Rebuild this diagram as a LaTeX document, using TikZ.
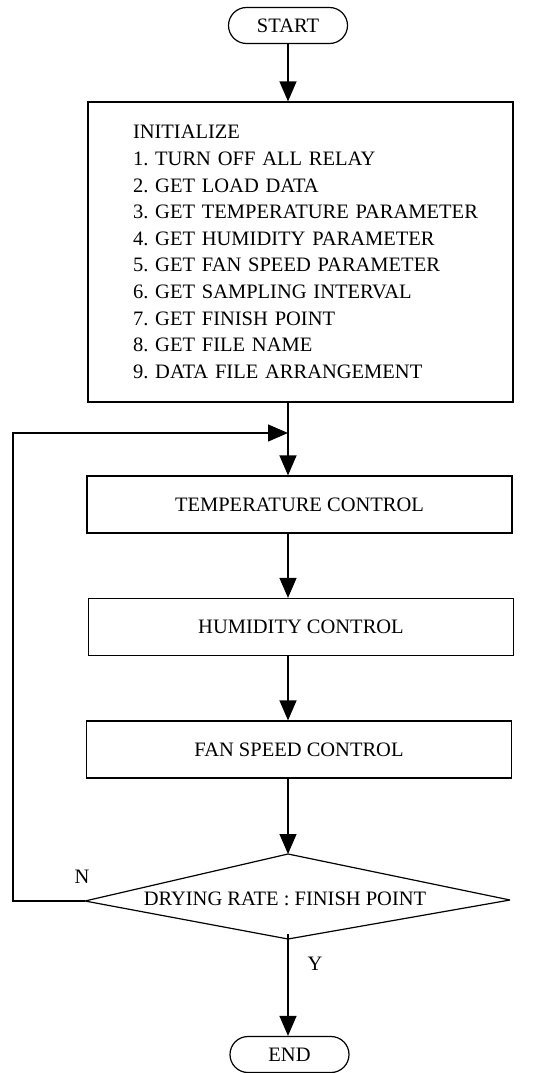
\documentclass[tikz,border=0pt]{standalone}
\usepackage{fontspec}
\setmainfont{Liberation Serif}
\frenchspacing
\usetikzlibrary{shapes.geometric,arrows.meta}
\begin{document}
\begin{tikzpicture}[x=1pt,y=-1pt,
  every node/.style={font=\fontsize{20.5pt}{26.6pt}\selectfont, text=black},
  box/.style={draw, line width=1.2pt, minimum width=425pt, minimum height=57pt, inner sep=0pt},
  term/.style={draw, line width=1.2pt, rounded corners=18pt, minimum width=119pt, minimum height=36pt, inner sep=0pt},
  decline/.style={draw, line width=1.2pt, line join=bevel},
  flow/.style={line width=1.2pt, -{Triangle[length=20pt,width=17pt]}},
  lbl/.style={inner sep=0pt}
]
\useasboundingbox (0,0) rectangle (545,1073);
\node[term] (start) at (288,25.5) {START};
\node[draw, line width=1.2pt, minimum width=425pt, minimum height=300pt, text width=335pt, inner xsep=45pt, inner ysep=0pt, align=left] (init) at (300.5,252) {\mbox{INITIALIZE}\\
\mbox{1. TURN OFF ALL RELAY}\\
\mbox{2. GET LOAD DATA}\\
\mbox{3. GET TEMPERATURE PARAMETER}\\
\mbox{4. GET HUMIDITY PARAMETER}\\
\mbox{5. GET FAN SPEED PARAMETER}\\
\mbox{6. GET SAMPLING INTERVAL}\\
\mbox{7. GET FINISH POINT}\\
\mbox{8. GET FILE NAME}\\
\mbox{9. DATA FILE ARRANGEMENT}};
\node[box] (temp) at (299.5,504.5) {TEMPERATURE CONTROL};
\node[box] (hum) at (301,627) {HUMIDITY CONTROL};
\node[box] (fan) at (299,749.5) {FAN SPEED CONTROL};
% decision
\coordinate (dtop) at (288,854);
\coordinate (dleft) at (85,901);
\coordinate (dright) at (510,900);
\coordinate (dbot) at (288,939);
\draw[decline] (dtop) -- (dright) -- (dbot) -- (dleft) -- cycle;
\node[inner sep=0pt] (dry) at (285,899) {DRYING RATE : FINISH POINT};
\node[term] (end) at (289.5,1054.5) {END};
\coordinate (loopA) at (13,901);
\coordinate (loopB) at (13,433);
\coordinate (join) at (288,433);
\node[lbl] (n) at (82,877) {N};
\node[lbl] (y) at (315,964) {Y};

\draw[flow] (start.south) -- (start.south |- init.north);
\draw[line width=1.2pt] (init.south -| join) -- (join);
\draw[flow] (join) -- (join |- temp.north);
\draw[flow] (dleft) -- (loopA) -- (loopB) -- (join);
\draw[flow] (temp.south -| join) -- (join |- hum.north);
\draw[flow] (hum.south -| join) -- (join |- fan.north);
\draw[flow] (fan.south -| join) -- (dtop);
\draw[flow] ([yshift=5pt]dbot) -- (dbot |- end.north);
\end{tikzpicture}
\end{document}
